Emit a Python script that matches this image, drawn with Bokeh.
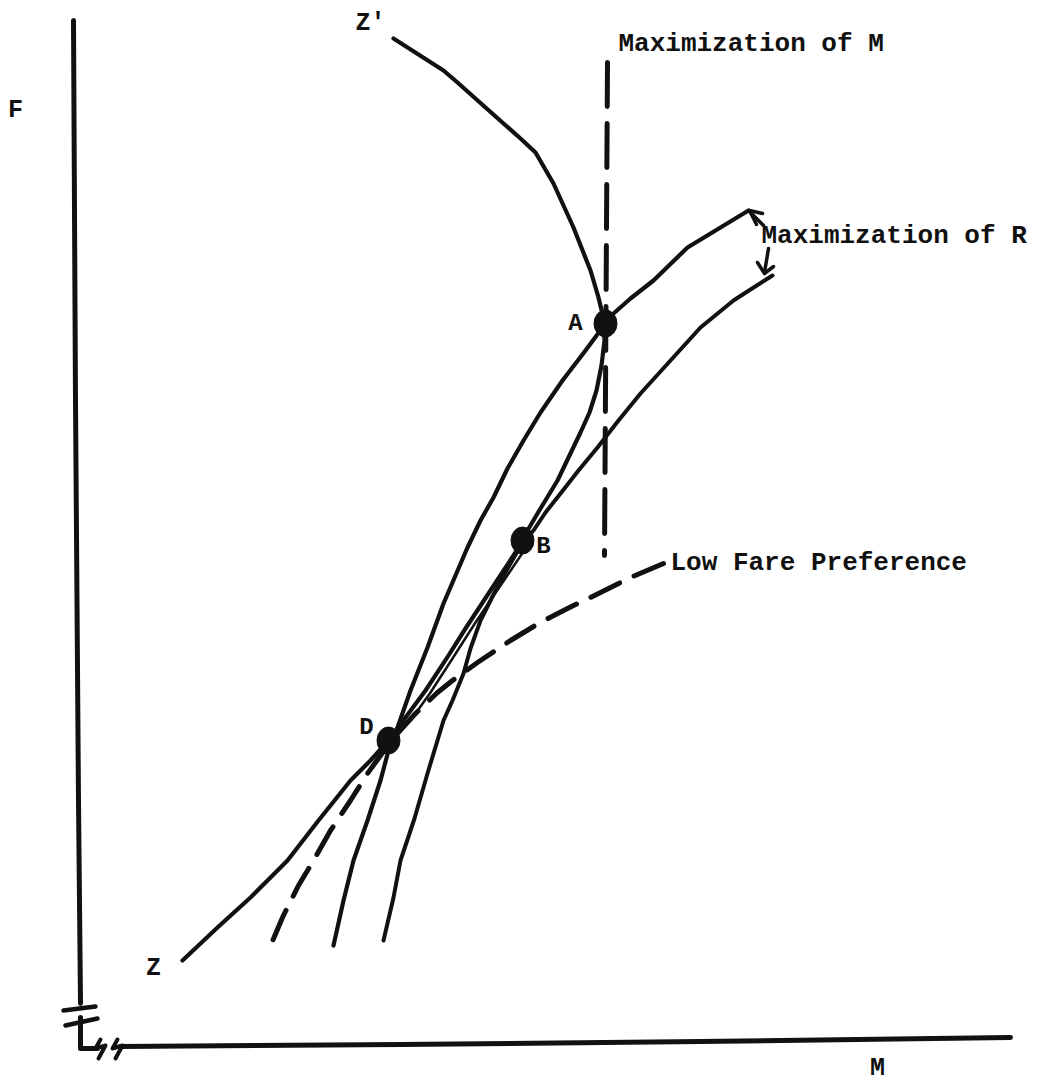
from bokeh.plotting import figure
from bokeh.models import Range1d
from bokeh.core.properties import value
from bokeh.embed import file_html
from bokeh.resources import INLINE

# ---- data (diagram coordinates; y grows downward) ----
# Z' - A - B - D - Z locus
zloc_x = [393, 443, 457, 485, 520, 535, 553, 573, 590, 598, 603, 604, 601, 596, 589, 580, 557, 540, 527, 522, 513, 490, 465, 448, 425, 405, 388, 370, 350, 318, 287, 250, 217, 182]
zloc_y = [38, 70, 82, 107, 138, 152, 183, 227, 270, 297, 318, 340, 365, 390, 412, 432, 480, 508, 530, 541, 555, 590, 628, 655, 690, 717, 740, 760, 780, 820, 860, 897, 927, 960]

# upper iso-revenue curve (through A and D)
r1_x = [748, 720, 687, 653, 630, 613, 605, 585, 562, 540, 523, 507, 493, 480, 467, 455, 443, 427, 410, 397, 388, 380, 367, 353, 343, 333]
r1_y = [210, 227, 247, 280, 298, 313, 323, 350, 380, 412, 440, 468, 497, 520, 547, 575, 603, 647, 690, 727, 750, 780, 820, 860, 900, 945]

# lower iso-revenue curve (through B)
r2_x = [772, 750, 733, 700, 670, 640, 618, 597, 578, 560, 545, 533, 522, 510, 495, 480, 470, 463, 452, 443, 427, 414, 400, 393, 383]
r2_y = [275, 289, 300, 327, 360, 393, 420, 447, 470, 493, 512, 530, 542, 563, 590, 620, 648, 673, 700, 720, 773, 818, 860, 897, 940]

# second stroke between B and D
bd_x = [525, 500, 475, 452, 430, 410, 392]
bd_y = [548, 585, 622, 658, 692, 720, 740]

# low fare preference (dashed)
lf_x = [663, 630, 600, 567, 538, 510, 477, 452, 437, 415, 395, 380, 367, 350, 330, 313, 298, 282, 268]
lf_y = [563, 577, 592, 608, 623, 640, 662, 680, 692, 713, 735, 755, 773, 800, 830, 860, 885, 917, 950]

# maximization of M (vertical dashed)
mm_x = [607, 604]
mm_y = [62, 555]

# equilibrium points
pt_x = [605, 522, 388]
pt_y = [323, 540, 740]
pt_names = ["A", "B", "D"]
pt_label_x = [575, 543, 366]
pt_label_y = [323, 546, 727]

# axes
yaxis_x = [73, 75, 78, 80]
yaxis_y = [20, 400, 800, 1003]
yaxis2_x = [80, 80, 97]
yaxis2_y = [1017, 1048, 1048]
xaxis_x = [120, 400, 700, 1010]
xaxis_y = [1046, 1044, 1041, 1037]
brk1_x = [63, 95]
brk1_y = [1010, 1006]
brk2_x = [65, 97]
brk2_y = [1025, 1018]
zig1_x = [100, 95, 105, 98]
zig1_y = [1039, 1048, 1045, 1058]
zig2_x = [117, 112, 122, 115]
zig2_y = [1039, 1048, 1045, 1058]

# arrows near "Maximization of R"
arr1_shaft_x = [749, 763]
arr1_shaft_y = [211, 225]
arr1_head_x = [762, 749, 756]
arr1_head_y = [213, 210, 224]
arr2_shaft_x = [768, 764]
arr2_shaft_y = [248, 272]
arr2_head_x = [757, 764, 773]
arr2_head_y = [262, 273, 266]

# texts
lab_text = ["F", "Z'", "Z", "M"]
lab_x = [15, 370, 153, 877]
lab_y = [110, 23, 968, 1068]
note_text = ["Maximization of M", "Maximization of R", "Low Fare Preference"]
note_x = [618, 761, 670]
note_y = [43, 235, 562]

# ---- figure ----
W, H = 1041, 1084
p = figure(width=W, height=H, x_range=Range1d(0, W), y_range=Range1d(H, 0),
           output_backend="svg", toolbar_location=None, min_border=0)
p.axis.visible = False
p.grid.visible = False
p.outline_line_color = None
p.background_fill_color = "white"
p.border_fill_color = "white"

ink = "#111111"
lw = 4.2

def stroke(xs, ys, w=lw, dash="solid"):
    p.line(xs, ys, line_color=ink, line_width=w, line_dash=dash,
           line_cap="round", line_join="round")

stroke(yaxis_x, yaxis_y, 5)
stroke(yaxis2_x, yaxis2_y, 5)
stroke(xaxis_x, xaxis_y, 5)
stroke(brk1_x, brk1_y, 4.5)
stroke(brk2_x, brk2_y, 4.5)
stroke(zig1_x, zig1_y, 4)
stroke(zig2_x, zig2_y, 4)

stroke(zloc_x, zloc_y, 4.2)
stroke(r1_x, r1_y, 4.2)
stroke(r2_x, r2_y, 4.0)
stroke(bd_x, bd_y, 2.5)

p.line(lf_x, lf_y, line_color=ink, line_width=5, line_dash="32 16", line_cap="round")
p.line(mm_x, mm_y, line_color=ink, line_width=5, line_dash="44 17", line_cap="round")

stroke(arr1_shaft_x, arr1_shaft_y, 3.5)
stroke(arr1_head_x, arr1_head_y, 3.5)
stroke(arr2_shaft_x, arr2_shaft_y, 3.5)
stroke(arr2_head_x, arr2_head_y, 3.5)

p.ellipse(pt_x, pt_y, width=23, height=27, fill_color=ink, line_color=ink)

font = value("Liberation Mono")
p.text(pt_label_x, pt_label_y, text=pt_names, text_font=font, text_font_size="24px",
       text_font_style="bold", text_align="center", text_baseline="middle", text_color=ink)
p.text(lab_x, lab_y, text=lab_text, text_font=font, text_font_size="25px",
       text_font_style="bold", text_align="center", text_baseline="middle", text_color=ink)
p.text(note_x, note_y, text=note_text, text_font=font, text_font_size="26px",
       text_font_style="bold", text_align="left", text_baseline="middle", text_color=ink)

open("out.html", "w").write(file_html(p, INLINE))
